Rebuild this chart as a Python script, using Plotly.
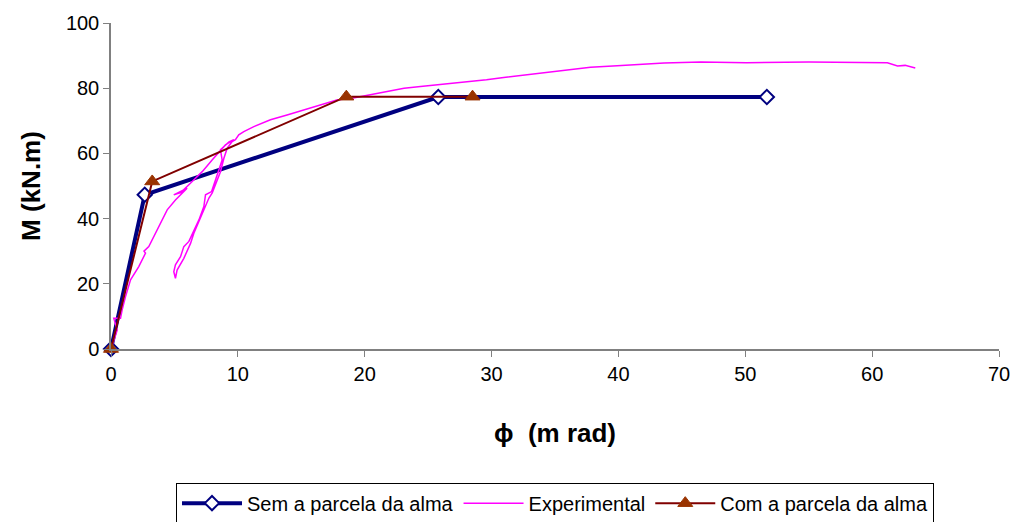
import plotly.graph_objects as go

# Series: "Sem a parcela da alma"
phi_sem = [0.0, 2.66, 25.8, 51.7]
m_sem = [0.0, 47.3, 77.3, 77.3]

# Series: "Com a parcela da alma"
phi_com = [0.0, 3.25, 18.55, 28.5]
m_com = [0.0, 51.4, 77.4, 77.4]

# Series: "Experimental" (traced)
phi_exp = [0.0, 0.22, 0.49, 0.22, 0.75, 0.88, 1.14, 1.54, 2.19, 2.72, 2.6, 2.98, 3.5, 3.9,
           4.43, 5.08, 5.74, 6.0, 4.95, 5.5, 6.4, 7.19, 7.97, 8.63, 9.02, 9.68,
           9.3, 8.63, 8.76, 8.5, 8.24, 7.93, 7.45, 7.32, 6.93, 6.4, 6.14, 5.74, 5.48,
           5.08, 4.95, 5.08,
           5.21, 5.74, 6.27, 6.53, 6.93, 7.32, 7.72, 7.98, 8.24, 8.63, 8.9, 9.16, 9.55, 9.81,
           10.07, 10.47, 11.26, 12.57, 13.88, 15.2, 16.5, 17.8, 19.1, 20.4, 21.8, 23.1,
           24.4, 25.7, 27.0, 28.33, 29.6, 30.96, 33.3, 34.6, 36.2, 37.8, 39.9, 41.5,
           43.6, 46.5, 50.1, 55.0, 61.2, 62.0, 62.6, 63.4]
m_exp = [0.0, 2.8, 5.8, 9.4, 9.4, 12.0, 16.0, 21.2, 25.3, 29.4, 30.0, 31.4, 35.5, 38.6,
         42.7, 45.7, 48.3, 49.3, 47.3, 48.0, 51.4, 54.4, 58.0, 61.1, 62.6, 64.2,
         63.5, 61.1, 58.0, 54.9, 51.9, 48.3, 47.3, 43.7, 39.6, 35.5, 33.0, 31.4, 28.3,
         25.8, 23.7, 21.7,
         24.2, 27.8, 32.4, 35.5, 39.1, 42.7, 46.3, 47.9, 50.4, 54.4, 58.5, 61.6, 63.6, 64.2,
         65.7, 66.7, 68.2, 70.3, 71.8, 73.4, 74.9, 76.4, 77.0, 78.0, 79.0, 80.0,
         80.5, 81.0, 81.6, 81.9, 82.6, 83.3, 84.4, 84.8, 85.7, 86.4, 86.9, 87.2,
         87.7, 88.0, 87.8, 88.0, 87.8, 86.8, 87.0, 86.2]

x_ticks = [0, 10, 20, 30, 40, 50, 60, 70]
y_ticks = [0, 20, 40, 60, 80, 100]

fig = go.Figure()
fig.add_trace(go.Scatter(
    x=phi_sem, y=m_sem, name="Sem a parcela da alma", mode="lines+markers",
    line=dict(color="#000080", width=4),
    marker=dict(symbol="diamond", size=11, color="white",
                line=dict(color="#000080", width=2)),
    cliponaxis=False))
fig.add_trace(go.Scatter(
    x=phi_exp, y=m_exp, name="Experimental", mode="lines",
    line=dict(color="#FF00FF", width=1.5), cliponaxis=False))
fig.add_trace(go.Scatter(
    x=phi_com, y=m_com, name="Com a parcela da alma", mode="lines+markers",
    line=dict(color="#800000", width=2),
    marker=dict(symbol="triangle-up", size=13, color="#993300",
                line=dict(color="#993300", width=1)),
    cliponaxis=False))

axis_font = dict(family="Liberation Sans, Arial, sans-serif", size=20, color="black")
fig.update_layout(
    width=1010, height=514,
    margin=dict(l=103, r=19, t=15, b=173, autoexpand=False),
    plot_bgcolor="white", paper_bgcolor="white",
    font=axis_font,
    showlegend=True,
    legend=dict(orientation="h", x=0.5, xanchor="center", y=-0.41, yanchor="top",
                bordercolor="black", borderwidth=1, font=dict(size=20),
                itemwidth=60, tracegroupgap=0),
    xaxis=dict(range=[0, 70], tickvals=x_ticks, showgrid=False, zeroline=False,
               automargin=False,
               showline=True, linecolor="#808080", linewidth=1.5,
               ticks="outside", ticklen=6, tickcolor="#808080",
               title=dict(text="ϕ  (m rad)", font=dict(size=26, family="Liberation Sans, Arial", weight="bold"),
                          standoff=40)),
    yaxis=dict(range=[0, 100], tickvals=y_ticks, showgrid=False, zeroline=False,
               automargin=False,
               showline=True, linecolor="#808080", linewidth=1.5,
               ticks="outside", ticklen=6, tickcolor="#808080",
               title=dict(text="M (kN.m)", font=dict(size=26, family="Liberation Sans, Arial", weight="bold"),
                          standoff=18)),
)
fig.write_html("out.html")
